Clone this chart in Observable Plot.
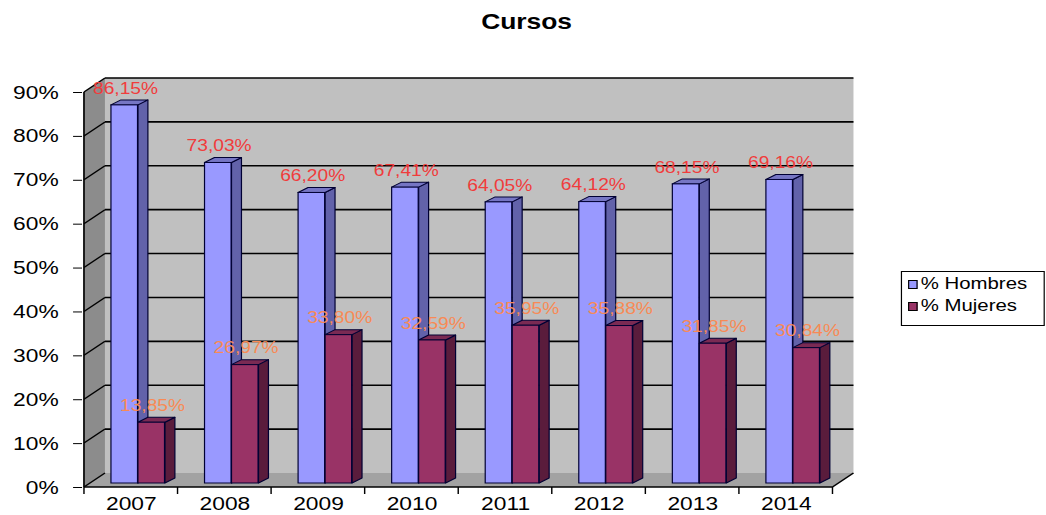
<!DOCTYPE html>
<html>
<head>
<meta charset="utf-8">
<script src="https://cdn.jsdelivr.net/npm/d3@7"></script>
<script src="https://cdn.jsdelivr.net/npm/@observablehq/plot@0.6"></script>
<style>
  html, body { margin: 0; padding: 0; background: #fff; overflow: hidden; }
  #wrap { position: relative; width: 872px; height: 515px; transform: scaleX(1.19954); transform-origin: 0 0;
          font-family: "Liberation Sans", Arial, sans-serif; }
  #chart { position: absolute; left: 0; top: 0; }
  #title { position: absolute; left: 0; width: 878px; top: 9px; text-align: center; font-weight: bold; font-size: 22px; color: #000; }
  #legend { position: absolute; left: 750.5px; top: 271px; width: 120px; height: 55px; border: 1px solid #000; box-sizing: border-box;
            padding: 1px 0 0 5px; font-size: 17px; color: #000; }
  .item { height: 22px; line-height: 22px; display: flex; align-items: center; }
  .sw { width: 8px; height: 9px; border: 1px solid #000; box-sizing: border-box; margin-right: 3px; }
</style>
</head>
<body>
<div id="wrap">
  <div id="chart"></div>
  <div id="title">Cursos</div>
  <div id="legend"></div>
</div>
<script>
// ---- data ----
const years = ["2007", "2008", "2009", "2010", "2011", "2012", "2013", "2014"];
const hombres = [86.15, 73.03, 66.20, 67.41, 64.05, 64.12, 68.15, 69.16];
const mujeres = [13.85, 26.97, 33.80, 32.59, 35.95, 35.88, 31.85, 30.84];
const seriesNames = ["% Hombres", "% Mujeres"];
const yTicks = [0, 10, 20, 30, 40, 50, 60, 70, 80, 90];

// ---- styles ----
const frontColors = ["#9999ff", "#993366"];
const sideColors = ["#6262aa", "#5a1c3c"];
const topColors = ["#7676c4", "#7a2a53"];
const labelColors = ["#f03c3c", "#f88a55"];
const edge = "#000033";

const W = 872, H = 515;
const mL = 68.4, mR = 176.7, mT = 92, mB = 28;
const depth = [17.5, -14];     // wall depth (px)
const barDepth = [8.3, -5];    // bar depth (px)
const barShift = -4;           // bars sit slightly behind the front plane
const barW = 22.5;
const insets = [22.5, 45];     // left inset of each series inside its band

const fmt = v => v.toFixed(2).replace(".", ",") + "%";
const tables = [hombres, mujeres].map((vals, s) => years.map((yr, i) => ({year: yr, value: vals[i], series: seriesNames[s]})));

function polygon(g, pts, fill, stroke, sw) {
  g.append("polygon").attr("points", pts.map(p => p.join(",")).join(" "))
    .attr("fill", fill).attr("stroke", stroke || "none").attr("stroke-width", sw || 0)
    .attr("stroke-linejoin", "round");
}
function line(g, a, b, stroke, sw) {
  g.append("line").attr("x1", a[0]).attr("y1", a[1]).attr("x2", b[0]).attr("y2", b[1])
    .attr("stroke", stroke).attr("stroke-width", sw);
}

// walls, floor, gridlines, axis lines
function scene(index, scales) {
  const x = scales.x, y = scales.y;
  const bw = x.bandwidth();
  const x0 = x(years[0]), x1 = x(years[years.length - 1]) + bw;
  const [dx, dy] = depth;
  const yTop = y(yTicks[yTicks.length - 1]), y0 = y(0);
  const g = d3.create("svg:g");
  // back wall
  polygon(g, [[x0 + dx, yTop + dy], [x1 + dx, yTop + dy], [x1 + dx, y0 + dy], [x0 + dx, y0 + dy]], "#c0c0c0");
  // left wall
  polygon(g, [[x0, yTop], [x0 + dx, yTop + dy], [x0 + dx, y0 + dy], [x0, y0]], "#8c8c8c");
  // floor
  polygon(g, [[x0, y0], [x1, y0], [x1 + dx, y0 + dy], [x0 + dx, y0 + dy]], "#a2a2a2");
  // gridlines on back wall + slanted lines on left wall
  for (const t of yTicks) {
    const yt = y(t);
    if (t > 0) line(g, [x0 + dx, yt + dy], [x1 + dx, yt + dy], "#000", 1.6);
    line(g, [x0, yt], [x0 + dx, yt + dy], "#000", 1.3);
  }
  // front axis lines
  line(g, [x0, yTop], [x0, y0], "#000", 1.4);
  line(g, [x0, y0], [x1, y0], "#000", 1.4);
  line(g, [x1, y0], [x1 + dx, y0 + dy], "#000", 1.4);
  // category separators
  for (let i = 0; i <= years.length; i++) {
    const xs = x0 + i * bw;
    line(g, [xs, y0], [xs, y0 + 7], "#000", 1.2);
  }
  return g.node();
}

// side and top faces of a series' bars
function faces(s) {
  return (index, scales) => {
    const x = scales.x, y = scales.y;
    const [bx, by] = barDepth;
    const g = d3.create("svg:g");
    for (const d of tables[s]) {
      const xl = x(d.year) + insets[s], xr = xl + barW;
      const yt = y(d.value) + barShift, yb = y(0) + barShift;
      polygon(g, [[xr, yt], [xr + bx, yt + by], [xr + bx, yb + by], [xr, yb]], sideColors[s], edge, 1);
      polygon(g, [[xl, yt], [xr, yt], [xr + bx, yt + by], [xl + bx, yt + by]], topColors[s], edge, 1);
    }
    return g.node();
  };
}

const bandW = (W - mL - mR) / years.length;
const labelDx = [insets[0] + barW / 2 - bandW / 2 + 0.6, insets[1] + barW / 2 - bandW / 2 + 0.6];

const chart = Plot.plot({
  width: W, height: H,
  marginLeft: mL, marginRight: mR, marginTop: mT, marginBottom: mB,
  style: {background: "transparent", fontFamily: "'Liberation Sans', Arial, sans-serif", fontSize: "19px", color: "#000", overflow: "visible"},
  x: {domain: years, padding: 0, tickSize: 0, tickPadding: 9.5, label: null},
  y: {domain: [0, 90], ticks: yTicks, tickFormat: d => d + "%", tickSize: 7.5, tickPadding: 12.5, label: null, line: false},
  marks: [
    scene,
    faces(0),
    Plot.barY(tables[0], {x: "year", y: "value", fill: frontColors[0], stroke: edge, strokeWidth: 1,
      insetLeft: insets[0], insetRight: bandW - insets[0] - barW, dy: barShift}),
    faces(1),
    Plot.barY(tables[1], {x: "year", y: "value", fill: frontColors[1], stroke: edge, strokeWidth: 1,
      insetLeft: insets[1], insetRight: bandW - insets[1] - barW, dy: barShift}),
    Plot.text(tables[0], {x: "year", y: "value", text: d => fmt(d.value), fill: labelColors[0], fontSize: 16,
      dx: labelDx[0], dy: -21}),
    Plot.text(tables[1], {x: "year", y: "value", text: d => fmt(d.value), fill: labelColors[1], fontSize: 16,
      dx: labelDx[1], dy: -21})
  ]
});
document.getElementById("chart").appendChild(chart);

// legend
const legend = document.getElementById("legend");
seriesNames.forEach((name, s) => {
  const item = document.createElement("div");
  item.className = "item";
  const sw = document.createElement("span");
  sw.className = "sw";
  sw.style.background = frontColors[s];
  const lab = document.createElement("span");
  lab.textContent = name;
  item.appendChild(sw); item.appendChild(lab);
  legend.appendChild(item);
});
</script>
</body>
</html>
